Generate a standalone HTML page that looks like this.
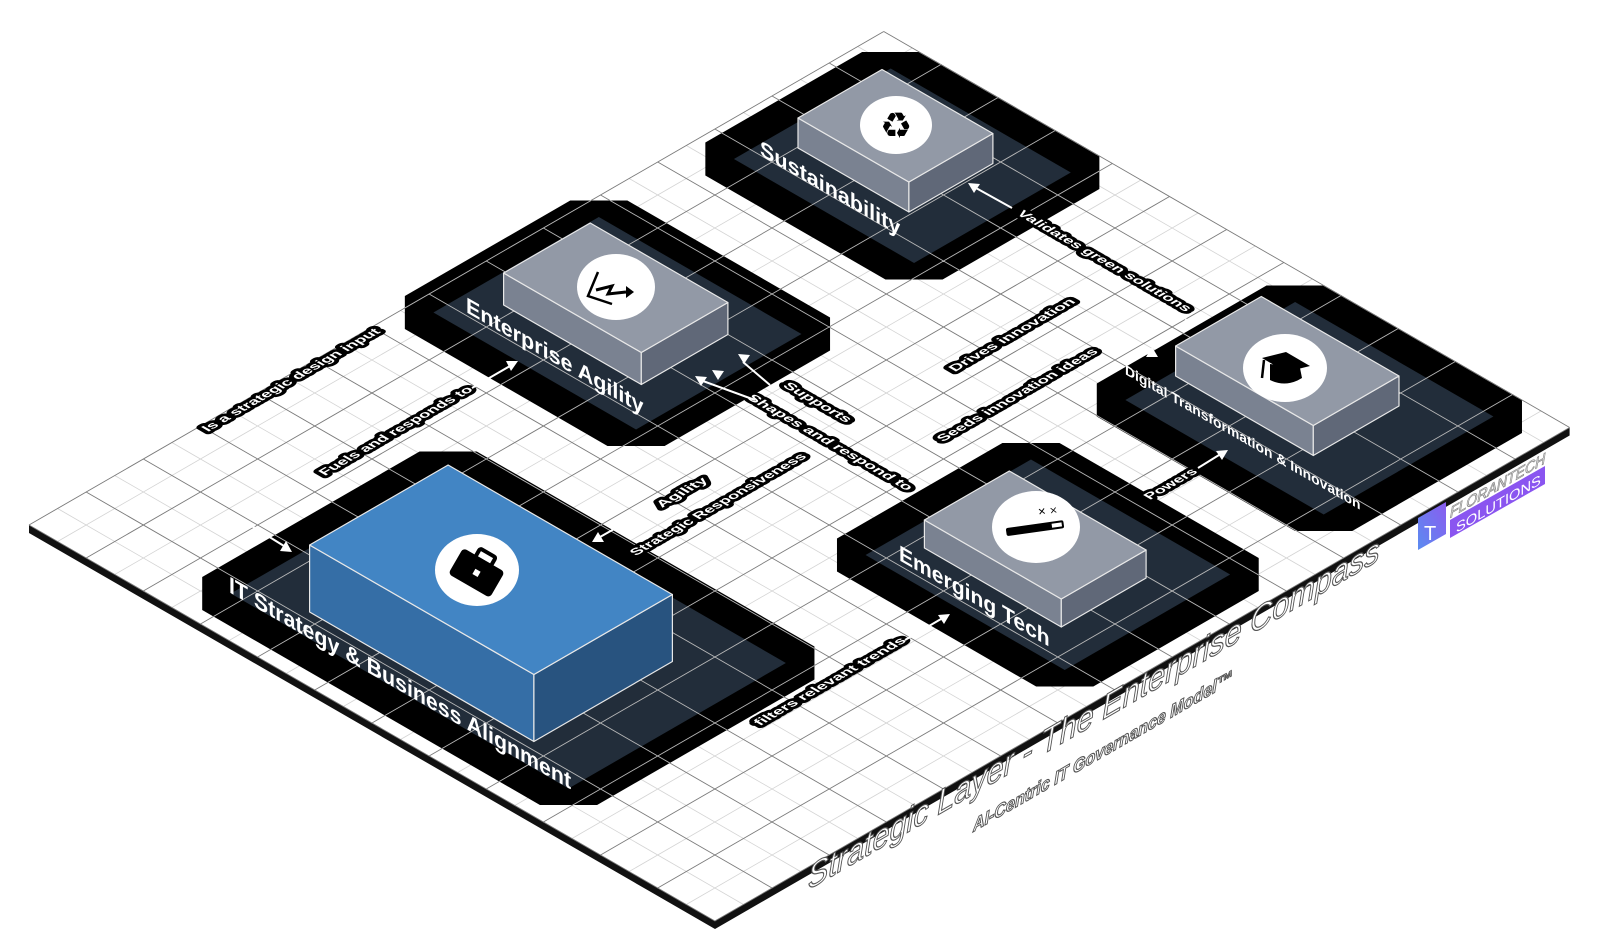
<!DOCTYPE html>
<html><head><meta charset="utf-8"><style>
html,body{margin:0;padding:0;background:#fff;width:1600px;height:949px;overflow:hidden}
svg{display:block}
.lbl{font-family:"Liberation Sans","DejaVu Sans",sans-serif;font-weight:bold;fill:#fff;stroke:#000;stroke-width:7;stroke-linejoin:round;paint-order:stroke;font-size:13px}
.nm{font-family:"Liberation Sans","DejaVu Sans",sans-serif;font-weight:bold;fill:#fff}
.ttl{font-family:"Liberation Sans","DejaVu Sans",sans-serif;font-style:italic;fill:#fff;stroke:#555;stroke-width:1.1}
</style></head><body>
<svg width="1600" height="949" viewBox="0 0 1600 949" xmlns="http://www.w3.org/2000/svg">
<defs>
<clipPath id="pc">
  <polygon points="185,15 575,15 608,48 608,299 575,332 185,332 152,299 152,48"/>
  <polygon points="21,413 255,413 288,446 288,637 255,670 21,670 -12,637 -12,446"/>
  <polygon points="513,420 743,420 776,453 776,644 743,677 513,677 480,644 480,453"/>
  <polygon points="41,740 249,740 282,773 282,954 249,987 41,987 8,954 8,773"/>
  <polygon points="508,725 737,725 770,758 770,954 737,987 508,987 475,954 475,758"/>
</clipPath>
<linearGradient id="lg" x1="0" y1="1" x2="1" y2="0"><stop offset="0" stop-color="#5b8cf0"/><stop offset="1" stop-color="#8a5cf0"/></linearGradient>
</defs>
<polygon points="29,525 715,921 1569.6,427.5 1569.6,435.5 715,929 29,533" fill="#111"/>
<g transform="matrix(0.866,0.5,0.866,-0.5,29,525)">
  <polygon points="0,0 792,0 792,987 0,987" fill="#fff"/>
  <path fill="none" stroke="#d4d4d4" stroke-width="0.8" vector-effect="non-scaling-stroke" d="M33 0V987M99 0V987M165 0V987M231 0V987M297 0V987M363 0V987M429 0V987M495 0V987M561 0V987M627 0V987M693 0V987M759 0V987M0 33H792M0 99H792M0 165H792M0 231H792M0 297H792M0 363H792M0 429H792M0 495H792M0 561H792M0 627H792M0 693H792M0 759H792M0 825H792M0 891H792M0 957H792"/>
  <path fill="none" stroke="#7a7a7a" stroke-width="0.9" vector-effect="non-scaling-stroke" d="M0 0V987M66 0V987M132 0V987M198 0V987M264 0V987M330 0V987M396 0V987M462 0V987M528 0V987M594 0V987M660 0V987M726 0V987M792 0V987M0 0H792M0 66H792M0 132H792M0 198H792M0 264H792M0 330H792M0 396H792M0 462H792M0 528H792M0 594H792M0 660H792M0 726H792M0 792H792M0 858H792M0 924H792M0 987H792"/>
  <polygon points="185,15 575,15 608,48 608,299 575,332 185,332 152,299 152,48" fill="#000"/>
  <rect x="185" y="48" width="390" height="251" fill="#222d3a"/>
  <polygon points="21,413 255,413 288,446 288,637 255,670 21,670 -12,637 -12,446" fill="#000"/>
  <rect x="21" y="446" width="234" height="191" fill="#222d3a"/>
  <polygon points="513,420 743,420 776,453 776,644 743,677 513,677 480,644 480,453" fill="#000"/>
  <rect x="513" y="453" width="230" height="191" fill="#222d3a"/>
  <polygon points="41,740 249,740 282,773 282,954 249,987 41,987 8,954 8,773" fill="#000"/>
  <rect x="41" y="773" width="208" height="181" fill="#222d3a"/>
  <polygon points="508,725 737,725 770,758 770,954 737,987 508,987 475,954 475,758" fill="#000"/>
  <rect x="508" y="758" width="229" height="196" fill="#222d3a"/>
  <path clip-path="url(#pc)" fill="none" stroke="#b8b8b8" stroke-width="0.9" vector-effect="non-scaling-stroke" d="M0 0V987M66 0V987M132 0V987M198 0V987M264 0V987M330 0V987M396 0V987M462 0V987M528 0V987M594 0V987M660 0V987M726 0V987M792 0V987M0 0H792M0 66H792M0 132H792M0 198H792M0 264H792M0 330H792M0 396H792M0 462H792M0 528H792M0 594H792M0 660H792M0 726H792M0 792H792M0 858H792M0 924H792M0 987H792"/>
</g>

<g stroke="#e8e8e8" stroke-width="1.2" stroke-linejoin="round">
  <polygon points="309.6,612 533.9,741.5 533.9,674.5 309.6,545" fill="#356ea6"/>
  <polygon points="533.9,741.5 672.4,661.5 672.4,594.5 533.9,674.5" fill="#28537f"/>
  <polygon points="309.6,545 533.9,674.5 672.4,594.5 448.1,465" fill="#4285c4"/>
  <polygon points="503.6,305 641.3,384.5 641.3,352.5 503.6,273" fill="#7a8291"/>
  <polygon points="641.3,384.5 727.9,334.5 727.9,302.5 641.3,352.5" fill="#606878"/>
  <polygon points="503.6,273 641.3,352.5 727.9,302.5 590.2,223" fill="#9299a6"/>
  <polygon points="924.4,548 1061.3,627 1061.3,599 924.4,520" fill="#7a8291"/>
  <polygon points="1061.3,627 1146.1,578 1146.1,550 1061.3,599" fill="#606878"/>
  <polygon points="924.4,520 1061.3,599 1146.1,550 1009.3,471" fill="#9299a6"/>
  <polygon points="798,148 908.9,212 908.9,182 798,118" fill="#7a8291"/>
  <polygon points="908.9,212 992.9,163.5 992.9,133.5 908.9,182" fill="#606878"/>
  <polygon points="798,118 908.9,182 992.9,133.5 882,69.5" fill="#9299a6"/>
  <polygon points="1175.6,376 1313.3,455.5 1313.3,425.5 1175.6,346" fill="#7a8291"/>
  <polygon points="1313.3,455.5 1399,406 1399,376 1313.3,425.5" fill="#606878"/>
  <polygon points="1175.6,346 1313.3,425.5 1399,376 1261.3,296.5" fill="#9299a6"/>
</g>

<ellipse cx="477" cy="570" rx="42" ry="36" fill="#fff"/>
<g transform="translate(477,572) rotate(30)">
  <rect x="-24" y="-14" width="48" height="30" rx="4" fill="#000"/>
  <rect x="-9" y="-22" width="18" height="10" rx="2" fill="none" stroke="#000" stroke-width="4"/>
  <rect x="-4" y="-3" width="8" height="8" fill="#fff" stroke="#000" stroke-width="2"/>
</g>
<ellipse cx="616" cy="287" rx="39" ry="33" fill="#fff"/>
<polyline points="598,272 588,296 612,304" fill="none" stroke="#000" stroke-width="2.5"/>
<polyline points="596,290 612,286 608,294 626,292" fill="none" stroke="#000" stroke-width="3"/>
<polygon points="626,286 634,292 626,298" fill="#000"/>
<ellipse cx="896" cy="125" rx="36" ry="29" fill="#fff"/>
<text x="896" y="138" text-anchor="middle" font-family="DejaVu Sans,sans-serif" font-size="36" fill="#000">♻</text>
<ellipse cx="1036" cy="527" rx="44" ry="36" fill="#fff"/>
<g transform="translate(1036,528) rotate(-8)">
  <rect x="-30" y="-4" width="58" height="8" rx="2" fill="#000"/>
  <rect x="16" y="-2" width="10" height="4" fill="#fff"/>
  <text x="4" y="-12" font-size="10" font-family="DejaVu Sans,sans-serif" fill="#000">✕ ×</text>
</g>
<ellipse cx="1285" cy="368" rx="42" ry="34" fill="#fff"/>
<polygon points="1262,358 1286,352 1310,366 1286,372" fill="#000"/>
<path d="M1270,364 L1270,380 Q1286,388 1302,378 L1300,368" fill="#000"/>
<line x1="1264" y1="360" x2="1262" y2="378" stroke="#000" stroke-width="2.5"/>

<text class="nm" font-size="23" transform="matrix(0.866,0.5,0,1,229,592)" textLength="395" lengthAdjust="spacingAndGlyphs">IT Strategy &amp; Business Alignment</text>
<text class="nm" font-size="22" transform="matrix(0.866,0.5,0,1,466,312)" textLength="205" lengthAdjust="spacingAndGlyphs">Enterprise Agility</text>
<text class="nm" font-size="22" transform="matrix(0.866,0.5,0,1,760,155)" textLength="162" lengthAdjust="spacingAndGlyphs">Sustainability</text>
<text class="nm" font-size="22" transform="matrix(0.866,0.5,0,1,899,560)" textLength="174" lengthAdjust="spacingAndGlyphs">Emerging Tech</text>
<text class="nm" font-size="14" transform="matrix(0.866,0.5,0,1,1125,374)" textLength="272" lengthAdjust="spacingAndGlyphs">Digital Transformation &amp; Innovation</text>

<text class="lbl" transform="matrix(0.866,-0.5,0.866,0.5,208,432)" textLength="200" lengthAdjust="spacingAndGlyphs">Is a strategic design input</text>
<text class="lbl" transform="matrix(0.866,-0.5,0.866,0.5,325,476)" textLength="172" lengthAdjust="spacingAndGlyphs">Fuels and responds to</text>
<text class="lbl" transform="matrix(0.866,-0.5,0.866,0.5,662,508)" textLength="54" lengthAdjust="spacingAndGlyphs">Agility</text>
<text class="lbl" transform="matrix(0.866,-0.5,0.866,0.5,636,556)" textLength="198" lengthAdjust="spacingAndGlyphs">Strategic Responsiveness</text>
<text class="lbl" transform="matrix(0.866,-0.5,0.866,0.5,760,726)" textLength="170" lengthAdjust="spacingAndGlyphs">filters relevant trends</text>
<text class="lbl" transform="matrix(0.866,-0.5,0.866,0.5,955,372)" textLength="140" lengthAdjust="spacingAndGlyphs">Drives innovation</text>
<text class="lbl" transform="matrix(0.866,-0.5,0.866,0.5,943,442)" textLength="180" lengthAdjust="spacingAndGlyphs">Seeds innovation ideas</text>
<text class="lbl" transform="matrix(0.866,-0.5,0.866,0.5,1150,500)" textLength="56" lengthAdjust="spacingAndGlyphs">Powers</text>
<text class="lbl" transform="matrix(0.866,0.5,-0.866,0.5,782,386)" textLength="74" lengthAdjust="spacingAndGlyphs">Supports</text>
<text class="lbl" transform="matrix(0.866,0.5,-0.866,0.5,746,398)" textLength="186" lengthAdjust="spacingAndGlyphs">Shapes and respond to</text>
<text class="lbl" transform="matrix(0.866,0.5,-0.866,0.5,1016,214)" textLength="196" lengthAdjust="spacingAndGlyphs">Validates green solutions</text>

<g stroke="#fff" stroke-width="2" fill="none">
  <line x1="250" y1="525" x2="284" y2="546"/>
  <line x1="630" y1="520" x2="600" y2="537"/>
  <line x1="472" y1="388" x2="510" y2="366"/>
  <line x1="755" y1="400" x2="703" y2="381"/>
  <line x1="770" y1="385" x2="743" y2="362"/>
  <line x1="1012" y1="208" x2="976" y2="188"/>
  <line x1="905" y1="640" x2="941" y2="619"/>
  <line x1="1198" y1="468" x2="1219" y2="455"/>
</g>
<g fill="#fff">
  <polygon points="292,552 280,551 286,541"/>
  <polygon points="592,542 604,542 598,532"/>
  <polygon points="518,361 511,371 506,361"/>
  <polygon points="695,376 701,386 707,377"/>
  <polygon points="712,370 718,380 724,371"/>
  <polygon points="738,354 744,364 750,355"/>
  <polygon points="968,183 974,193 980,184"/>
  <polygon points="950,614 944,624 938,615"/>
  <polygon points="1228,450 1222,460 1216,451"/>
  <polygon points="1158,357 1146,357 1152,347"/>
  <polygon points="1192,328 1180,328 1186,318"/>
</g>

<text class="ttl" font-size="34" transform="matrix(0.866,-0.5,0,1,808,890)" textLength="660" lengthAdjust="spacingAndGlyphs">Strategic Layer - The Enterprise Compass</text>
<text class="ttl" font-size="18" font-weight="bold" transform="matrix(0.866,-0.5,0,1,973,832)" textLength="300" lengthAdjust="spacingAndGlyphs">AI-Centric IT Governance Model™</text>

<polygon points="1418,518 1446,502 1446,534 1418,550" fill="url(#lg)"/>
<text x="1424" y="540" font-family="Liberation Sans,sans-serif" font-size="20" fill="#fff">T</text>
<text class="ttl" font-size="15" style="stroke:#888;stroke-width:0.8" transform="matrix(0.866,-0.5,0,1,1450,518)" textLength="110" lengthAdjust="spacingAndGlyphs">FLORANTECH</text>
<polygon points="1450,520 1545,466 1545,484 1450,538" fill="#8a55f0"/>
<text font-family="Liberation Sans,sans-serif" font-size="14" fill="#fff" transform="matrix(0.866,-0.5,0,1,1456,533)" textLength="98" lengthAdjust="spacingAndGlyphs">SOLUTIONS</text>
</svg>
</body></html>
